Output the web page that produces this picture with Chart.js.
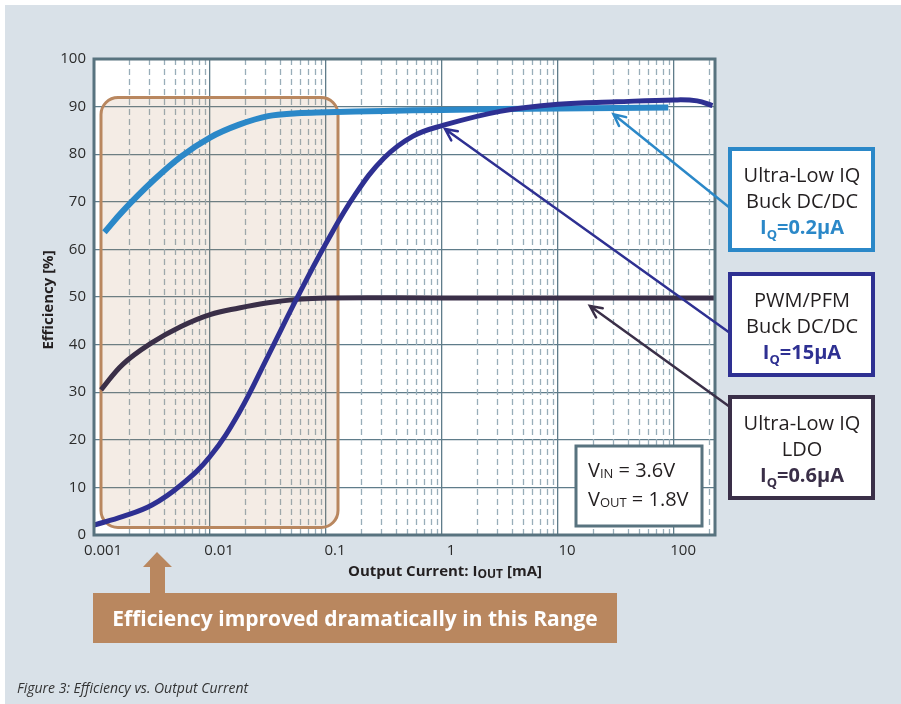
<!DOCTYPE html>
<html>
<head>
<meta charset="utf-8">
<script src="https://cdn.jsdelivr.net/npm/chart.js@4.4.0/dist/chart.umd.min.js"></script>
<style>
  html, body { margin: 0; padding: 0; background: #ffffff; }
  #wrap { width: 901px; height: 704px; }
</style>
</head>
<body>
<div id="wrap"><canvas id="myChart" width="901" height="704"></canvas></div>
<script>
// output current in mA (log axis) and efficiency in %
// Ultra-Low IQ Buck DC/DC
const ulBuckX = [0.00123, 0.00178, 0.00316, 0.00562, 0.01, 0.0178, 0.0316, 0.0562, 0.1, 0.316, 1, 3.16, 10, 31.6, 89]
const ulBuckY = [63.6, 68.1, 74.2, 79.5, 83.5, 86.2, 88.0, 88.6, 88.8, 89.1, 89.3, 89.5, 89.6, 89.7, 89.8]

// PWM/PFM Buck DC/DC
const pwmX = [0.001, 0.00178, 0.00316, 0.00562, 0.01, 0.0178, 0.0316, 0.0562, 0.1, 0.178, 0.316, 0.562, 1, 3.16, 10, 31.6, 100, 158, 214]
const pwmY = [2.1, 3.9, 6.3, 10.5, 16.5, 25.7, 37.6, 49.8, 61.3, 71.5, 79.2, 83.8, 86.0, 89.0, 90.5, 91.0, 91.4, 91.2, 90.2]

// Ultra-Low IQ LDO
const ldoX = [0.00115, 0.00178, 0.00316, 0.00562, 0.01, 0.0178, 0.0316, 0.0562, 0.1, 1, 10, 100, 225]
const ldoY = [30.5, 35.9, 40.4, 43.8, 46.3, 47.7, 48.8, 49.5, 49.8, 49.8, 49.8, 49.8, 49.8]

// tick labels of the log axis
const xTickValues = [0.001, 0.01, 0.1, 1, 10, 100]
const xTickLabels = ['0.001', '0.01', '0.1', '1', '10', '100']

// where each callout arrow points (data coordinates)
const ulBuckArrowAt = [30, 88.4]
const pwmArrowAt = [1.06, 85.3]
const ldoArrowAt = [18.8, 48.1]

const BG = '#d9e1e8'
const GRID = '#5f7c8a'
const BLUE = '#2b88c8'
const NAVY = '#2e3092'
const PLUM = '#3a2f48'
const BROWN = '#b9875f'

// turn two arrays into {x, y} points for chart.js
function toPoints(xs, ys) {
  var pts = []
  for (var i = 0; i < xs.length; i++) {
    pts.push({ x: xs[i], y: ys[i] })
  }
  return pts
}

// draws a line of text made of parts with their own font / offset, centered or left aligned
function drawRich(ctx, parts, x, y, align) {
  var total = 0
  parts.forEach(function (p) {
    ctx.font = p.font
    p.w = ctx.measureText(p.t).width
    total += p.w
  })
  var cx = align === 'center' ? x - total / 2 : x
  ctx.textAlign = 'left'
  ctx.textBaseline = 'alphabetic'
  parts.forEach(function (p) {
    ctx.font = p.font
    ctx.fillStyle = p.color
    ctx.fillText(p.t, cx, y + (p.dy || 0))
    cx += p.w
  })
}

// straight line with an open arrow head at (tx, ty)
function drawArrow(ctx, fx, fy, tx, ty, color) {
  var ang = Math.atan2(ty - fy, tx - fx)
  var head = 13
  ctx.save()
  ctx.strokeStyle = color
  ctx.lineWidth = 2.5
  ctx.lineCap = 'round'
  ctx.beginPath()
  ctx.moveTo(fx, fy)
  ctx.lineTo(tx, ty)
  ctx.moveTo(tx + head * Math.cos(ang + Math.PI - 0.45), ty + head * Math.sin(ang + Math.PI - 0.45))
  ctx.lineTo(tx, ty)
  ctx.lineTo(tx + head * Math.cos(ang + Math.PI + 0.45), ty + head * Math.sin(ang + Math.PI + 0.45))
  ctx.stroke()
  ctx.restore()
}

function roundRect(ctx, x, y, w, h, r) {
  ctx.beginPath()
  ctx.moveTo(x + r, y)
  ctx.lineTo(x + w - r, y)
  ctx.arcTo(x + w, y, x + w, y + r, r)
  ctx.lineTo(x + w, y + h - r)
  ctx.arcTo(x + w, y + h, x + w - r, y + h, r)
  ctx.lineTo(x + r, y + h)
  ctx.arcTo(x, y + h, x, y + h - r, r)
  ctx.lineTo(x, y + r)
  ctx.arcTo(x, y, x + r, y, r)
  ctx.closePath()
}

// callout box with the three lines of text
function drawCallout(ctx, top, color, line1, line2, iq) {
  ctx.save()
  ctx.fillStyle = '#ffffff'
  ctx.fillRect(730, top, 143, 101)
  ctx.strokeStyle = color
  ctx.lineWidth = 4
  ctx.strokeRect(730, top, 143, 101)
  ctx.fillStyle = '#231f20'
  ctx.font = '20px "Open Sans"'
  ctx.textAlign = 'center'
  ctx.fillText(line1, 802, top + 33)
  ctx.fillText(line2, 802, top + 59)
  drawRich(ctx, [
    { t: 'I', font: 'bold 20px "Open Sans"', color: color },
    { t: 'Q', font: 'bold 13px "Open Sans"', color: color, dy: 5 },
    { t: iq, font: 'bold 20px "Open Sans"', color: color }
  ], 802, top + 85, 'center')
  ctx.restore()
}

// background, white plot area
const backPlugin = {
  id: 'backPlugin',
  beforeDraw: function (chart) {
    var ctx = chart.ctx
    var a = chart.chartArea
    ctx.save()
    ctx.fillStyle = '#ffffff'
    ctx.fillRect(0, 0, chart.width, chart.height)
    ctx.fillStyle = BG
    ctx.fillRect(5, 5, chart.width - 5, chart.height - 5)
    ctx.fillStyle = '#ffffff'
    ctx.fillRect(a.left, a.top, a.right - a.left, a.bottom - a.top)
    ctx.restore()
  },
  // dashed minor grid lines (2..9 in every decade) and the shaded range box
  beforeDatasetsDraw: function (chart) {
    var ctx = chart.ctx
    var a = chart.chartArea
    var xs = chart.scales.x
    ctx.save()
    ctx.strokeStyle = '#98adb9'
    ctx.lineWidth = 1.3
    ctx.setLineDash([6, 4])
    for (var d = 0; d < xTickValues.length; d++) {
      for (var m = 2; m <= 9; m++) {
        var v = xTickValues[d] * m
        if (v >= xs.max) continue
        var px = Math.round(xs.getPixelForValue(v)) + 0.5
        ctx.beginPath()
        ctx.moveTo(px, a.top)
        ctx.lineTo(px, a.bottom)
        ctx.stroke()
      }
    }
    ctx.setLineDash([])
    // the "efficiency improved" range
    roundRect(ctx, 101, 97.5, 237, 430, 17)
    ctx.fillStyle = 'rgba(185,135,95,0.16)'
    ctx.fill()
    ctx.strokeStyle = BROWN
    ctx.lineWidth = 3
    ctx.stroke()
    ctx.restore()
  },
  afterDatasetsDraw: function (chart) {
    var ctx = chart.ctx
    var a = chart.chartArea
    var xs = chart.scales.x
    var ys = chart.scales.y
    ctx.save()
    // frame of the plot
    ctx.strokeStyle = '#58737f'
    ctx.lineWidth = 3
    ctx.strokeRect(a.left, a.top, a.right - a.left, a.bottom - a.top)

    // Vin / Vout box
    ctx.fillStyle = '#ffffff'
    ctx.fillRect(576, 446, 126, 80)
    ctx.strokeStyle = '#58737f'
    ctx.lineWidth = 3
    ctx.strokeRect(576, 446, 126, 80)
    drawRich(ctx, [
      { t: 'V', font: '20px "Open Sans"', color: '#231f20' },
      { t: 'IN', font: '13px "Open Sans"', color: '#231f20', dy: 1 },
      { t: ' = 3.6V', font: '20px "Open Sans"', color: '#231f20' }
    ], 588, 477, 'left')
    drawRich(ctx, [
      { t: 'V', font: '20px "Open Sans"', color: '#231f20' },
      { t: 'OUT', font: '13px "Open Sans"', color: '#231f20', dy: 1 },
      { t: ' = 1.8V', font: '20px "Open Sans"', color: '#231f20' }
    ], 588, 506, 'left')

    // callout arrows, pointing at the curves
    drawArrow(ctx, 730, 208, xs.getPixelForValue(ulBuckArrowAt[0]), ys.getPixelForValue(ulBuckArrowAt[1]), BLUE)
    drawArrow(ctx, 730, 333, xs.getPixelForValue(pwmArrowAt[0]), ys.getPixelForValue(pwmArrowAt[1]), NAVY)
    drawArrow(ctx, 730, 407, xs.getPixelForValue(ldoArrowAt[0]), ys.getPixelForValue(ldoArrowAt[1]), PLUM)

    drawCallout(ctx, 149, BLUE, 'Ultra-Low IQ', 'Buck DC/DC', '=0.2µA')
    drawCallout(ctx, 274, NAVY, 'PWM/PFM', 'Buck DC/DC', '=15µA')
    drawCallout(ctx, 397, PLUM, 'Ultra-Low IQ', 'LDO', '=0.6µA')

    // axis titles
    drawRich(ctx, [
      { t: 'Output Current: I', font: 'bold 15px "Open Sans"', color: '#231f20' },
      { t: 'OUT', font: 'bold 12px "Open Sans"', color: '#231f20', dy: 2 },
      { t: ' [mA]', font: 'bold 15px "Open Sans"', color: '#231f20' }
    ], 445, 576, 'center')
    ctx.save()
    ctx.translate(53, 300)
    ctx.rotate(-Math.PI / 2)
    ctx.fillStyle = '#231f20'
    ctx.font = 'bold 15px "Open Sans"'
    ctx.textAlign = 'center'
    ctx.fillText('Efficiency [%]', 0, 0)
    ctx.restore()

    // banner with the arrow up to the range
    ctx.fillStyle = BROWN
    ctx.beginPath()
    ctx.moveTo(157, 552)
    ctx.lineTo(172, 567)
    ctx.lineTo(165, 567)
    ctx.lineTo(165, 594)
    ctx.lineTo(150, 594)
    ctx.lineTo(150, 567)
    ctx.lineTo(143, 567)
    ctx.closePath()
    ctx.fill()
    ctx.fillRect(93, 593, 524, 50)
    ctx.fillStyle = '#ffffff'
    ctx.font = 'bold 21px "Open Sans"'
    ctx.textAlign = 'center'
    ctx.fillText('Efficiency improved dramatically in this Range', 355, 626)

    // caption
    ctx.fillStyle = '#333333'
    ctx.font = 'italic 14px "Open Sans"'
    ctx.textAlign = 'left'
    ctx.fillText('Figure 3: Efficiency vs. Output Current', 17, 693)
    ctx.restore()
  }
}

function updateChart() {
  var ctx = document.getElementById('myChart').getContext('2d')
  var chart = new Chart(ctx, {
    type: 'line',
    data: {
      datasets: [{
        label: 'PWM/PFM Buck DC/DC',
        data: toPoints(pwmX, pwmY),
        borderColor: NAVY,
        borderWidth: 5,
        order: 0
      }, {
        label: 'Ultra-Low IQ Buck DC/DC',
        data: toPoints(ulBuckX, ulBuckY),
        borderColor: BLUE,
        borderWidth: 6,
        order: 1
      }, {
        label: 'Ultra-Low IQ LDO',
        data: toPoints(ldoX, ldoY),
        borderColor: PLUM,
        borderWidth: 5,
        order: 2
      }]
    },
    options: {
      responsive: false,
      animation: false,
      events: [],
      layout: { padding: { left: 0, top: 59, right: 186, bottom: 139 } },
      elements: {
        point: { radius: 0 },
        line: { tension: 0.4, fill: false, borderJoinStyle: 'round' }
      },
      plugins: {
        legend: { display: false },
        tooltip: { enabled: false }
      },
      scales: {
        x: {
          type: 'logarithmic',
          min: 0.001,
          max: 225,
          afterBuildTicks: function (scale) {
            scale.ticks = xTickValues.map(function (v) { return { value: v } })
          },
          afterFit: function (scale) { scale.height = 30 },
          border: { display: false },
          grid: { color: GRID, lineWidth: 1.3, drawTicks: false },
          ticks: {
            autoSkip: false,
            maxRotation: 0,
            labelOffset: 9,
            padding: 7,
            color: '#2b2b2b',
            font: { family: 'Open Sans', size: 15 },
            callback: function (value) {
              var i = xTickValues.indexOf(value)
              return i >= 0 ? xTickLabels[i] : ''
            }
          }
        },
        y: {
          min: 0,
          max: 100,
          afterFit: function (scale) { scale.width = 94 },
          border: { display: false },
          grid: { color: GRID, lineWidth: 1.3, drawTicks: false },
          ticks: {
            stepSize: 10,
            padding: 8,
            color: '#2b2b2b',
            font: { family: 'Open Sans', size: 15 }
          }
        }
      }
    },
    plugins: [backPlugin]
  })
}

updateChart()
</script>
</body>
</html>
